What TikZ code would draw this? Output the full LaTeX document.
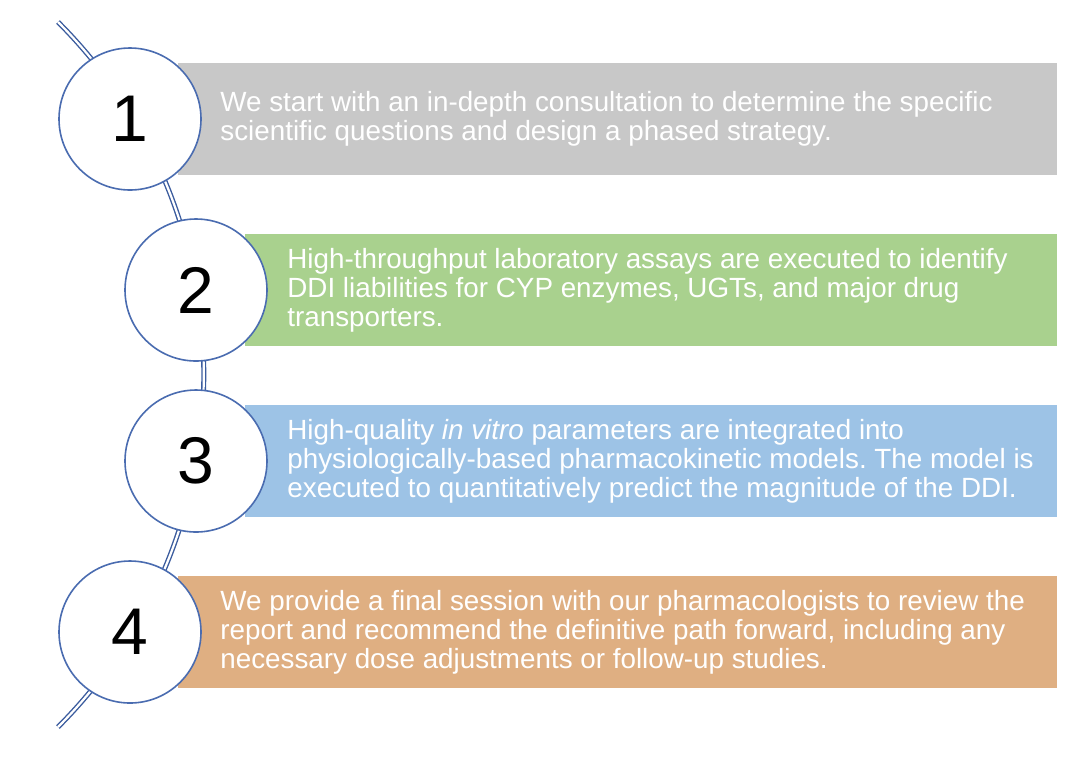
\documentclass[tikz,border=0pt]{standalone}
\usepackage{fontspec}
\setmainfont{Liberation Sans}
\usetikzlibrary{positioning}
\definecolor{cgrey}{HTML}{C8C8C8}
\definecolor{cgreen}{HTML}{A9D18E}
\definecolor{cblue}{HTML}{9DC3E6}
\definecolor{corange}{HTML}{DFAF82}
\definecolor{cline}{HTML}{4A6CB0}
\definecolor{ctrack}{HTML}{3B5C9E}
\frenchspacing
\begin{document}
\begin{tikzpicture}[x=0.5pt, y=0.5pt,
		n/.style={circle, draw=cline, line width=0.8pt, fill=white, minimum size=71pt, inner sep=0pt, font=\fontsize{33}{33}\selectfont},
		bar/.style={anchor=west, minimum height=56pt, inner sep=0pt},
		txt/.style={anchor=west, align=left, inner sep=0pt, text=white, font=\fontsize{13.9}{14.4}\selectfont},
		track/.style={draw=ctrack, line width=0.7pt, double=white, double distance=1.1pt}]
	\useasboundingbox (0,0) rectangle (1080,-757);

	\coordinate (top) at (58,-22);
	\coordinate (bot) at (58,-727);
	\draw[track] (top) to[bend left=45] (bot);

	\node[bar, fill=cgrey, minimum width=439.5pt] (b1) at (178,-119) {};
	\node[bar, fill=cgreen, minimum width=406pt] (b2) at (245,-290) {};
	\node[bar, fill=cblue, minimum width=406pt] (b3) at (245,-461) {};
	\node[bar, fill=corange, minimum width=439.5pt] (b4) at (178,-632) {};

	\node[txt, right=21pt of b1.west] (t1) {We start with an in-depth consultation to determine the specific\\scientific questions and design a phased strategy.};
	\node[txt, right=21pt of b2.west] (t2) {High-throughput laboratory assays are executed to identify\\DDI liabilities for CYP enzymes, UGTs, and major drug\\transporters.};
	\node[txt, right=21pt of b3.west] (t3) {High-quality \textit{in vitro} parameters are integrated into\\physiologically-based pharmacokinetic models. The model is\\executed to quantitatively predict the magnitude of the DDI.};
	\node[txt, right=21pt of b4.west] (t4) {We provide a final session with our pharmacologists to review the\\report and recommend the definitive path forward, including any\\necessary dose adjustments or follow-up studies.};

	\node[n] (s1) at (130,-119) {1};
	\node[n] (s2) at (196,-290) {2};
	\node[n] (s3) at (196,-461) {3};
	\node[n] (s4) at (130,-632) {4};
\end{tikzpicture}
\end{document}
